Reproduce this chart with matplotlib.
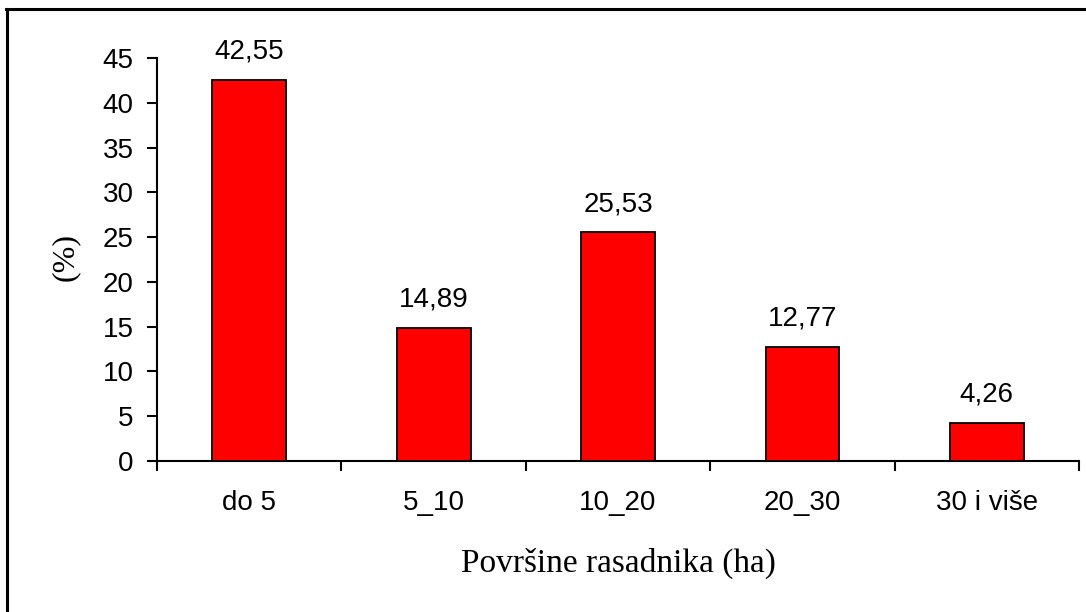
import matplotlib.pyplot as plt
from matplotlib.lines import Line2D
import numpy as np

categories = ['do 5', '5_10', '10_20', '20_30', '30 i više']
values = [42.55, 14.89, 25.53, 12.77, 4.26]
value_labels = ['42,55', '14,89', '25,53', '12,77', '4,26']

plt.rcParams['font.family'] = 'Liberation Sans'

fig = plt.figure(figsize=(10.86, 6.12), dpi=100)
ax = fig.add_axes([0.1446, 0.2467, 0.849, 0.6585])

x = np.arange(len(categories))
ax.bar(x, values, width=0.4, color='#ff0000', edgecolor='black', linewidth=1.3, zorder=3)

for xi, v, lab in zip(x, values, value_labels):
    ax.annotate(lab, (xi, v), xytext=(0, 11), textcoords='offset points',
                ha='center', va='bottom', fontsize=20)

ax.set_xlim(-0.5, len(categories) - 0.5)
ax.set_ylim(0, 45)
ax.set_yticks(np.arange(0, 46, 5))

# category labels centred, tick marks at the boundaries
ax.set_xticks(x)
ax.set_xticklabels(categories, fontsize=20)
ax.set_xticks(np.arange(-0.5, len(categories)), minor=True)
ax.tick_params(axis='x', which='major', length=0, pad=21)
ax.tick_params(axis='x', which='minor', direction='out', length=7, width=1.5)
ax.tick_params(axis='y', direction='out', length=7, width=1.5, labelsize=20, pad=10)

for s in ['top', 'right']:
    ax.spines[s].set_visible(False)
for s in ['left', 'bottom']:
    ax.spines[s].set_linewidth(1.5)

ax.set_xlabel('Površine rasadnika (ha)', family='Liberation Serif', fontsize=24, va='center')
ax.xaxis.set_label_coords(0.5, (461 - 563) / 403)
ax.set_ylabel('(%)', family='Liberation Serif', fontsize=23, va='center')
ax.yaxis.set_label_coords((65 - 157) / 922, (461 - 257) / 403)

# frame around the chart (only left and top visible in the picture)
fig.add_artist(Line2D([0.0068, 0.0068], [0, 0.985], color='black', lw=2.2, transform=fig.transFigure))
fig.add_artist(Line2D([0.0058, 1.0], [0.985, 0.985], color='black', lw=2.2, transform=fig.transFigure))

fig.savefig('out.png', dpi=100)
